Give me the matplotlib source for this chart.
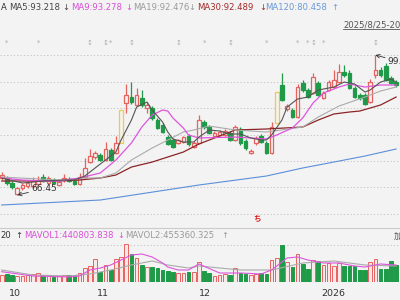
import matplotlib.pyplot as plt
import matplotlib.transforms as mtransforms
from matplotlib.patches import Rectangle
from matplotlib.lines import Line2D

plt.rcParams['font.family'] = ['DejaVu Sans', 'Noto Sans CJK SC']

# daily candles (oldest first)
opens = [70.50, 70.50, 69.31, 66.69, 68.12, 68.59, 68.59, 69.07, 70.73, 69.31,
         70.02, 68.83, 70.02, 70.26, 69.78, 69.07, 70.73, 74.30, 75.49, 75.97,
         74.78, 77.16, 76.45, 78.83, 88.35, 89.77, 87.87, 89.54, 87.16, 87.16,
         84.30, 83.11, 80.25, 79.54, 78.83, 79.06, 80.49, 77.87, 78.83, 83.82,
         82.63, 80.49, 80.73, 80.73, 81.21, 79.54, 82.16, 79.30, 76.45, 78.83,
         80.49, 78.83, 76.45, 83.59, 92.63, 86.92, 86.68, 85.01, 93.11, 91.44,
         90.73, 93.11, 89.54, 91.44, 92.15, 93.34, 95.72, 95.49, 91.92, 90.25,
         90.25, 88.58, 95.01, 96.20, 97.15, 94.30, 93.34]
highs = [71.92, 70.97, 69.78, 68.35, 69.31, 69.78, 70.73, 70.97, 71.45, 70.97,
         70.50, 70.02, 71.45, 70.73, 70.26, 71.69, 75.26, 77.40, 76.92, 76.45,
         79.06, 77.64, 80.49, 86.68, 92.87, 93.34, 91.92, 91.44, 88.58, 87.63,
         84.78, 83.59, 80.73, 80.02, 79.78, 80.49, 80.97, 79.30, 85.49, 84.30,
         83.11, 81.68, 81.92, 82.16, 81.68, 83.11, 82.63, 79.78, 77.40, 80.49,
         80.97, 79.30, 83.82, 90.96, 95.49, 88.11, 87.16, 92.87, 93.82, 91.92,
         95.49, 93.58, 91.20, 93.82, 96.20, 97.63, 97.39, 96.20, 92.39, 90.73,
         90.73, 94.06, 99.77, 96.91, 97.87, 94.77, 93.82]
lows = [70.02, 68.83, 67.88, 66.45, 67.64, 68.12, 68.12, 68.59, 69.54, 68.83,
        69.07, 68.59, 69.54, 69.54, 68.83, 68.83, 70.50, 74.07, 75.02, 74.54,
        74.54, 74.54, 76.21, 78.83, 85.97, 88.11, 87.63, 87.39, 85.97, 84.30,
        82.16, 81.21, 78.35, 77.64, 78.59, 78.83, 78.11, 77.64, 78.59, 82.16,
        80.97, 80.25, 80.49, 80.49, 79.30, 79.30, 78.35, 77.16, 76.21, 78.35,
        78.83, 76.21, 76.21, 83.59, 88.82, 86.44, 84.78, 84.78, 90.96, 89.54,
        90.49, 90.01, 89.30, 91.20, 91.92, 93.11, 94.53, 91.68, 89.54, 89.06,
        87.87, 88.35, 94.30, 94.53, 93.58, 92.87, 92.15]
closes = [71.21, 69.31, 68.35, 68.12, 68.83, 69.31, 69.78, 70.02, 69.78, 70.50,
          69.31, 69.54, 70.50, 69.78, 69.07, 70.73, 72.88, 75.73, 76.45, 74.78,
          77.40, 74.78, 78.83, 86.68, 90.25, 88.58, 90.25, 87.87, 87.87, 84.78,
          82.40, 81.44, 78.59, 77.87, 79.54, 80.25, 78.59, 78.83, 84.30, 82.63,
          81.21, 81.21, 81.44, 81.68, 79.54, 82.63, 78.83, 77.64, 76.92, 80.02,
          79.06, 76.45, 82.63, 90.96, 89.06, 87.63, 85.01, 92.15, 91.44, 89.77,
          94.53, 90.25, 90.73, 93.34, 93.82, 95.72, 95.01, 91.92, 89.77, 89.54,
          88.11, 93.34, 96.20, 95.01, 93.82, 93.11, 92.63]
volumes = [219000, 249000, 201000, 180000, 180000, 201000, 231000, 270000, 219000, 201000,
           150000, 180000, 201000, 219000, 219000, 279000, 420000, 480000, 681000, 300000,
           519000, 351000, 699000, 750000, 1149000, 840000, 720000, 525000, 465000, 465000,
           435000, 375000, 345000, 315000, 270000, 270000, 315000, 300000, 615000, 330000,
           261000, 195000, 201000, 240000, 225000, 435000, 270000, 249000, 201000, 240000,
           285000, 255000, 651000, 729000, 1119000, 600000, 450000, 849000, 549000, 399000,
           669000, 630000, 501000, 570000, 471000, 570000, 489000, 471000, 489000, 351000,
           351000, 600000, 699000, 399000, 399000, 630000, 501000]
limit_up = [23, 53]

# moving averages, sampled at candle indices
ma5_idx = [0, 4, 8, 12, 14, 16, 18, 20, 22, 23, 25, 26, 28, 29, 31, 32, 33, 35, 37, 38,
           40, 42, 44, 46, 48, 50, 51, 52, 54, 55, 57, 59, 61, 64, 66, 68, 70, 71, 73, 75, 76]
ma5_val = [70.50, 69.31, 69.78, 70.02, 70.02, 70.97, 72.88, 74.78, 76.68, 79.54,
           84.30, 87.39, 88.58, 86.68, 83.82, 81.44, 79.78, 79.06, 79.06, 80.25,
           81.92, 81.68, 80.97, 80.97, 80.02, 79.54, 79.54, 80.73, 84.30, 87.39,
           89.30, 89.77, 91.44, 92.15, 93.34, 92.87, 90.96, 91.44, 93.34, 94.06, 93.34]
ma9_idx = [0, 4, 8, 11, 15, 19, 22, 25, 27, 29, 31, 32, 33, 35, 36, 38, 45, 48, 51, 53,
           56, 58, 60, 62, 65, 67, 70, 73, 76]
ma9_val = [70.50, 70.02, 69.78, 69.78, 70.50, 71.69, 74.78, 78.83, 82.63, 85.49,
           86.68, 86.44, 84.78, 82.40, 80.73, 80.02, 80.25, 80.02, 79.78, 80.73,
           82.40, 84.78, 88.35, 90.73, 92.15, 92.87, 92.15, 92.63, 92.63]
ma19_idx = [0, 11, 16, 19, 22, 25, 29, 32, 35, 37, 40, 45, 51, 58, 61, 65, 70, 73, 76]
ma19_val = [70.73, 70.02, 70.50, 70.50, 71.69, 74.78, 77.64, 79.54, 81.44, 81.92,
            82.87, 81.92, 81.44, 82.63, 85.01, 87.63, 89.77, 91.20, 92.15]
ma30_idx = [0, 11, 15, 19, 22, 25, 29, 32, 35, 38, 45, 51, 58, 61, 64, 67, 69, 73, 76]
ma30_val = [69.78, 69.78, 70.02, 70.50, 71.21, 73.11, 74.30, 75.49, 76.68, 78.59,
            81.92, 82.16, 82.63, 84.30, 85.73, 86.20, 86.44, 87.87, 89.77]
ma120_idx = [0, 19, 38, 51, 58, 64, 70, 76]
ma120_val = [64.07, 65.26, 68.83, 70.97, 72.88, 74.30, 75.73, 77.40]

mavol1_idx = [0, 6, 13, 15, 17, 19, 21, 23, 25, 27, 29, 31, 32, 34, 36, 38, 42, 46, 50,
              52, 55, 57, 59, 62, 65, 68, 70, 73, 76]
mavol1_val = [309000, 180000, 150000, 180000, 360000, 420000, 510000, 660000, 810000, 840000,
              750000, 570000, 450000, 360000, 360000, 540000, 270000, 270000, 240000,
              360000, 720000, 750000, 660000, 570000, 570000, 480000, 450000, 540000, 510000]
mavol2_idx = [0, 6, 13, 17, 21, 25, 29, 32, 36, 38, 46, 52, 58, 64, 70, 76]
mavol2_val = [360000, 210000, 180000, 240000, 360000, 510000, 630000, 510000, 420000,
              480000, 360000, 360000, 570000, 630000, 510000, 480000]

month_labels = ['10', '11', '12', '2026']
month_pos = [2.5, 19.5, 39.2, 63.8]

star_events = [1, 7, 21, 39, 51, 57, 59, 62]
arrow_events = [17, 20, 25, 34, 44, 60, 72]

BG = '#f3f3f3'
RED = '#e5625f'
GREEN = '#1f9a48'
YELLOW = '#f0c94a'


def fy(py):
    # pixel row -> figure fraction
    return 1 - py / 300


fig = plt.figure(figsize=(4, 3), dpi=100, facecolor=BG)

# ---- price panel ----
ax = fig.add_axes([0, 72 / 300, 1, 214 / 300])
ax.set_xlim(-0.33, 76.75)
ax.set_ylim(58.60, 109.53)
ax.set_axis_off()

for lv in [99.77, 93.46, 87.16, 80.85, 74.54, 68.24, 61.93]:
    ax.axhline(lv, color='#bdbdbd', lw=0.6, ls=(0, (1.5, 2.5)), zorder=0)

for i in range(len(opens)):
    o, h, l, c = opens[i], highs[i], lows[i], closes[i]
    if i in limit_up:
        col, face = YELLOW, BG
    elif c >= o:
        col, face = RED, BG
    else:
        col, face = GREEN, GREEN
    ax.vlines(i, l, h, color=col, lw=0.9, zorder=2)
    ax.add_patch(Rectangle((i - 0.35, min(o, c)), 0.7, max(abs(c - o), 0.08),
                           facecolor=face, edgecolor=col, lw=0.9, zorder=3))

ax.plot(ma120_idx, ma120_val, color='#5b8fd9', lw=0.8, zorder=4)
ax.plot(ma30_idx, ma30_val, color='#8b2525', lw=0.9, zorder=4)
ax.plot(ma19_idx, ma19_val, color='#ababab', lw=0.8, zorder=4)
ax.plot(ma9_idx, ma9_val, color='#dd55dd', lw=0.9, zorder=4)
ax.plot(ma5_idx, ma5_val, color='#555555', lw=0.8, zorder=4)

imin = lows.index(min(lows))
imax = highs.index(max(highs))
ax.annotate(f'{lows[imin]:.2f}', xy=(imin, lows[imin]), xytext=(10, 4.5),
            textcoords='offset points', fontsize=6.5, color='#333333', va='center',
            arrowprops=dict(arrowstyle='->', color='#333333', lw=0.6,
                            shrinkA=0, shrinkB=0), zorder=6)
ax.annotate(f'{highs[imax]:.2f}', xy=(imax, highs[imax]), xytext=(9, -5),
            textcoords='offset points', fontsize=6.5, color='#333333', va='center',
            arrowprops=dict(arrowstyle='->', color='#333333', lw=0.6,
                            shrinkA=0, shrinkB=0), zorder=6)

trans = mtransforms.blended_transform_factory(ax.transData, fig.transFigure)
for i in star_events:
    ax.text(i, fy(43), '*', transform=trans, ha='center', va='center',
            fontsize=5, color='#aaaaaa')
for i in arrow_events:
    ax.text(i, fy(43), '↕', transform=trans, ha='center', va='center',
            fontsize=5, color='#aaaaaa')
ax.text(49.2, fy(219), 'ち', transform=trans, ha='center', va='center',
        fontsize=5.5, color='#e02020', fontweight='bold',
        family=['Noto Sans CJK JP', 'DejaVu Sans'])

# legend of the price panel
legend = [(1, 'A', '#333333'), (9, 'MA5:93.218', '#444444'), (62, '↓', '#444444'),
          (71, 'MA9:93.278', '#d84fd8'), (125, '↓', '#d84fd8'),
          (133, 'MA19:92.476', '#9a9a9a'), (188, '↓', '#9a9a9a'),
          (197, 'MA30:92.489', '#a52a2a'), (259, '↓', '#a52a2a'),
          (265, 'MA120:80.458', '#6a9ad8'), (331, '↑', '#6a9ad8')]
for x, s, col in legend:
    fig.text(x / 400, fy(7), s, fontsize=6.1, color=col, va='center')

fig.text(343 / 400, fy(24.5), '2025/8/25-2026/1/30', fontsize=6.1, color='#555555',
         va='center')
fig.add_artist(Line2D([343 / 400, 1], [fy(29)] * 2, color='#555555', lw=0.6))
fig.add_artist(Line2D([0, 1], [fy(228)] * 2, color='#cccccc', lw=0.8))

# ---- volume panel ----
vax = fig.add_axes([0, 18 / 300, 1, 42 / 300])
vax.set_xlim(-0.33, 76.75)
vax.set_ylim(0, 1.26e6)
vax.set_axis_off()
vax.axhline(1.11e6, color='#bdbdbd', lw=0.6, ls=(0, (1.5, 2.5)), zorder=0)

for i, v in enumerate(volumes):
    if closes[i] >= opens[i]:
        vax.bar(i, v, width=0.7, color='#fbe9e9', edgecolor=RED, lw=0.7, zorder=2)
    else:
        vax.bar(i, v, width=0.7, color=GREEN, edgecolor=GREEN, lw=0.7, zorder=2)

vax.plot(mavol2_idx, mavol2_val, color='#ababab', lw=0.8, zorder=3)
vax.plot(mavol1_idx, mavol1_val, color='#dd55dd', lw=0.8, zorder=3)

vlegend = [(0, '20', '#333333'), (15, '↑', '#333333'),
           (24, 'MAVOL1:440803.838', '#d84fd8'), (117, '↓', '#d84fd8'),
           (125, 'MAVOL2:455360.325', '#9a9a9a'), (221, '↑', '#9a9a9a'),
           (394, '加', '#555555')]
for x, s, col in vlegend:
    fig.text(x / 400, fy(236), s, fontsize=6.1, color=col, va='center',
             family=['DejaVu Sans', 'Noto Sans CJK SC'])

vtrans = mtransforms.blended_transform_factory(vax.transData, fig.transFigure)
for pos, lab in zip(month_pos, month_labels):
    vax.text(pos, fy(294), lab, transform=vtrans, ha='center', va='center',
             fontsize=6.8, color='#333333')

fig.savefig('out.png', dpi=100, facecolor=BG)
